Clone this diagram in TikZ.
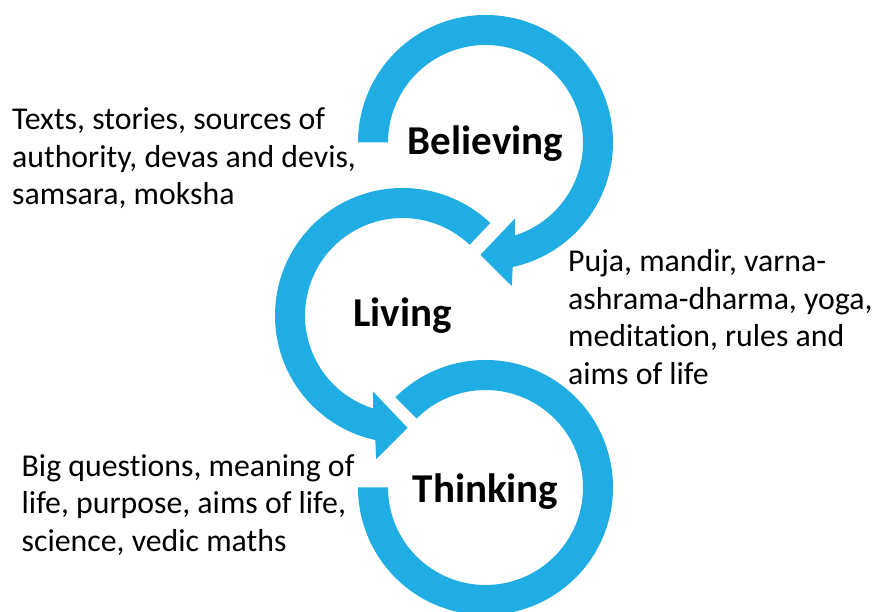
\documentclass[tikz,border=0pt]{standalone}
\usepackage{fontspec}
\setmainfont{Carlito}[Ligatures=NoCommon]
\usepackage{tikz}
\usepackage{xcolor}

\definecolor{ringblue}{HTML}{1FADE3}

\tikzset{
	ring/.style={fill=ringblue},
	title/.style={font=\bfseries\fontsize{41}{49}\selectfont, inner sep=0pt, anchor=base},
	note/.style={font=\fontsize{31.8}{37.6}\selectfont, align=left, inner sep=0pt, anchor=base west}
}

\begin{document}
\begin{tikzpicture}[x=1pt, y=1pt]
						\useasboundingbox[fill=white] (0,0) rectangle (877,612);
						\coordinate (cbel) at (485.5,469.5);
						\coordinate (cliv) at (402.5,296.5);
						\coordinate (cthi) at (485.5,124.5);
						\begin{scope}[shift={(cbel)}]
							\fill[ring] (180:127.5) arc[start angle=180, end angle=-77.7, radius=127.5] -- (-79.6:146) -- (-92.6:112.5) -- (-68.7:81.5) -- (-72.5:97.5) arc[start angle=-72.5, end angle=180, radius=97.5] -- cycle;
						\end{scope}
						\begin{scope}[shift={(cliv)}]
							\fill[ring] (46.5:127.5) arc[start angle=46.5, end angle=257.7, radius=127.5] -- (259.6:146) -- (272.6:112.5) -- (248.7:81.5) -- (252.5:97.5) arc[start angle=252.5, end angle=46.5, radius=97.5] -- cycle;
						\end{scope}
						\begin{scope}[shift={(cthi)}]
							\fill[ring] (135:127.5) arc[start angle=135, end angle=-180, radius=127.5] -- (180:97.5) arc[start angle=180, end angle=495, radius=97.5] -- cycle;
						\end{scope}
						\node[title] (believing) at (485.5,457) {Believing};
						\node[title] (living) at (402.5,285.3) {Living};
						\node[title] (thinking) at (485.5,109.3) {Thinking};
						\node[note] (belnote) at (12,407) {Texts, stories, sources of\\authority, devas and devis,\\samsara, moksha};
						\node[note] (livnote) at (568,227.7) {Puja, mandir, varna-\\ashrama-dharma, yoga,\\meditation, rules and\\aims of life};
						\node[note] (thinote) at (21.5,60.5) {Big questions, meaning of\\life, purpose, aims of life,\\science, vedic maths};
					\end{tikzpicture}
\end{document}
